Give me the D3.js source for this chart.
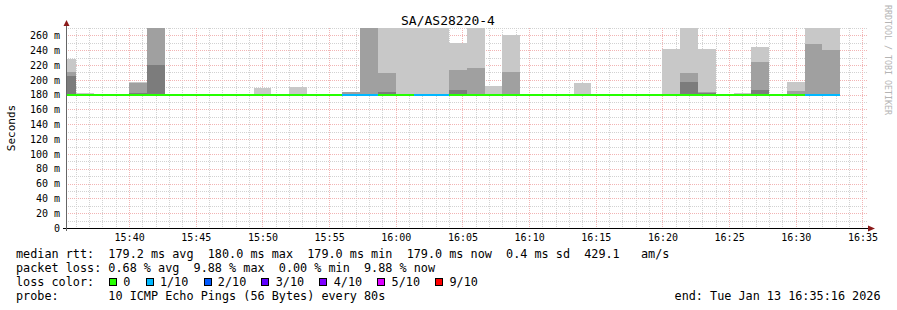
<!DOCTYPE html>
<html>
<head>
<meta charset="utf-8">
<script src="https://cdn.jsdelivr.net/npm/d3@7"></script>
<style>
body { margin: 0; background: #fff; }
svg { display: block; font-family: "DejaVu Sans Mono", monospace; }
</style>
</head>
<body>
<svg id="chart"></svg>
<script>
// graph window and probe step
var graphStart = "2026-01-13 15:35:16";
var graphEnd = "2026-01-13 16:35:16";
var firstSlot = "2026-01-13 15:34:40";
var stepSeconds = 80;

// per-step values (ms), one entry per 80s step
var medianMs = [180, 180, 180, 180, 180, 180, 179, 179, 179, 179,
                179, 179, 179, 179, 179, 179, 179, 179, 179, 179,
                179, 180, 180, 180, 180, 179, 179, 179, 179, 179,
                179, 179, 179, 179, 179, 179, 179, 179, 179, 179,
                179, 179, 179, 179];
var lossCount = [0, 0, 0, 0, 0, 0, 0, 0, 0, 0,
                 0, 0, 0, 0, 0, 0, 1, 1, 0, 0,
                 1, 1, 0, 0, 0, 0, 0, 0, 0, 0,
                 0, 0, 0, 0, 0, 0, 0, 0, 0, 0,
                 0, 0, 1, 1];
// smoke: top of outer / middle / inner ping bands (null = no band)
var smokeOuter = [228.5, 182.3, null, null, 197.5, 300, null, null, null, null,
                  null, 189.4, null, 190.3, null, null, 183.6, 300, 300, 300,
                  300, 300, 249.2, 300, 191.7, 260.4, null, null, null, 196,
                  null, null, null, null, 241.5, 300, 241.5, null, 181.6, 244.5,
                  null, 197.5, 300, 300];
var smokeMiddle = [210.6, null, null, null, 195.3, 300, null, null, null, null,
                   null, null, null, null, null, null, 183.6, 300, 209.4, null,
                   null, null, 213.2, 216, null, 210.6, null, null, null, null,
                   null, null, null, null, null, 209.4, 183.8, null, null, 224.2,
                   null, 185.2, 248.7, 240.6];
var smokeInner = [205.6, null, null, null, 182.6, 220, null, null, null, null,
                  null, null, null, null, null, null, null, null, 183.6, null,
                  null, null, 186.3, null, null, null, null, null, null, null,
                  null, null, null, null, null, 197.5, 182.1, null, null, 186.5,
                  null, null, null, null];

var yTicks = [0, 20, 40, 60, 80, 100, 120, 140, 160, 180, 200, 220, 240, 260];
var xTicks = ["15:40", "15:45", "15:50", "15:55", "16:00", "16:05", "16:10",
              "16:15", "16:20", "16:25", "16:30", "16:35"];

var lossLabels = ["0", "1/10", "2/10", "3/10", "4/10", "5/10", "9/10"];
var lossColors = ["#26ff00", "#00b8ff", "#0059ff", "#5e00ff", "#7e00ff", "#dd00ff", "#ff0000"];

var legendRows = [
    "median rtt:  179.2 ms avg  180.0 ms max  179.0 ms min  179.0 ms now  0.4 ms sd  429.1   am/s",
    "packet loss: 0.68 % avg  9.88 % max  0.00 % min  9.88 % now",
    "loss color:",
    "probe:       10 ICMP Echo Pings (56 Bytes) every 80s"
];
var endLabel = "end: Tue Jan 13 16:35:16 2026";
var title = "SA/AS28220-4";

var W = 897, H = 310;
var plot = {left: 66, right: 866, top: 28, bottom: 228};

var parse = d3.utcParse("%Y-%m-%d %H:%M:%S");
var t0 = parse(graphStart), t1 = parse(graphEnd), s0 = parse(firstSlot);

var x = d3.scaleUtc().domain([t0, t1]).range([plot.left, plot.right]);
var y = d3.scaleLinear().domain([0, 270]).range([plot.bottom, plot.top]);

var svg = d3.select("#chart").attr("width", W).attr("height", H);
svg.append("rect").attr("width", W).attr("height", H).attr("fill", "#fff");

svg.append("defs").append("clipPath").attr("id", "clip")
    .append("rect")
    .attr("x", plot.left).attr("y", plot.top)
    .attr("width", plot.right - plot.left).attr("height", plot.bottom - plot.top);

// grid
var grid = svg.append("g").attr("shape-rendering", "crispEdges");
var minorY = d3.range(10, 271, 10).filter(function(v){ return v % 20 !== 0; });
grid.selectAll(".hmin").data(minorY).enter().append("line")
    .attr("x1", plot.left).attr("x2", plot.right + 2)
    .attr("y1", function(d){ return Math.round(y(d)) + 0.5; })
    .attr("y2", function(d){ return Math.round(y(d)) + 0.5; })
    .attr("stroke", "#d2d2d2").attr("stroke-dasharray", "1,1");
var minorX = d3.utcMinute.range(t0, t1).filter(function(d){ return d.getUTCMinutes() % 5 !== 0; });
grid.selectAll(".vmin").data(minorX).enter().append("line")
    .attr("x1", function(d){ return Math.round(x(d)) + 0.5; })
    .attr("x2", function(d){ return Math.round(x(d)) + 0.5; })
    .attr("y1", plot.top).attr("y2", plot.bottom)
    .attr("stroke", "#d2d2d2").attr("stroke-dasharray", "1,1");
grid.selectAll(".hmaj").data(yTicks.slice(1)).enter().append("line")
    .attr("x1", plot.left).attr("x2", plot.right + 2)
    .attr("y1", function(d){ return Math.round(y(d)) + 0.5; })
    .attr("y2", function(d){ return Math.round(y(d)) + 0.5; })
    .attr("stroke", "#f2b4b4").attr("stroke-dasharray", "1,1");

var tickFmt = d3.utcFormat("%H:%M");
var xTickDates = xTicks.map(function(s){ return parse("2026-01-13 " + s + ":00"); });
grid.selectAll(".vmaj").data(xTickDates).enter().append("line")
    .attr("x1", function(d){ return Math.round(x(d)) + 0.5; })
    .attr("x2", function(d){ return Math.round(x(d)) + 0.5; })
    .attr("y1", plot.top).attr("y2", plot.bottom)
    .attr("stroke", "#f2b4b4").attr("stroke-dasharray", "1,1");

// smoke + median
var slots = medianMs.map(function(m, i){
    var a = d3.utcSecond.offset(s0, i * stepSeconds);
    return {start: a, end: d3.utcSecond.offset(a, stepSeconds), median: m, loss: lossCount[i],
            outer: smokeOuter[i], middle: smokeMiddle[i], inner: smokeInner[i]};
});

var g = svg.append("g").attr("clip-path", "url(#clip)").attr("shape-rendering", "crispEdges");
[["outer", "#c8c8c8"], ["middle", "#a0a0a0"], ["inner", "#7c7c7c"]].forEach(function(layer){
    g.selectAll(".smoke-" + layer[0])
      .data(slots.filter(function(d){ return d[layer[0]] != null; }))
      .enter().append("rect")
        .attr("x", function(d){ return x(d.start); })
        .attr("width", function(d){ return x(d.end) - x(d.start); })
        .attr("y", function(d){ return y(d[layer[0]]); })
        .attr("height", function(d){ return y(d.median) - y(d[layer[0]]); })
        .attr("fill", layer[1]);
});

g.selectAll(".median").data(slots).enter().append("line")
    .attr("x1", function(d){ return x(d.start); })
    .attr("x2", function(d){ return x(d.end); })
    .attr("y1", function(d){ return y(d.median); })
    .attr("y2", function(d){ return y(d.median); })
    .attr("stroke", function(d){ return lossColors[d.loss]; })
    .attr("stroke-width", 2);

// axes
var xAxis = svg.append("g")
    .attr("transform", "translate(0," + plot.bottom + ")")
    .call(d3.axisBottom(x).tickValues(xTickDates).tickFormat(tickFmt).tickSize(0).tickPadding(6));
xAxis.select(".domain").remove();
xAxis.selectAll("text").attr("font-size", 10).attr("font-family", "DejaVu Sans Mono").attr("fill", "#000");

var yAxis = svg.append("g")
    .attr("transform", "translate(" + plot.left + ",0)")
    .call(d3.axisLeft(y).tickValues(yTicks)
        .tickFormat(function(d){ return d === 0 ? "0" : d + " m"; })
        .tickSize(0).tickPadding(6));
yAxis.select(".domain").remove();
yAxis.selectAll("text").attr("font-size", 10).attr("font-family", "DejaVu Sans Mono").attr("fill", "#000");

svg.append("line").attr("x1", 63).attr("x2", 869).attr("y1", plot.bottom + 0.5).attr("y2", plot.bottom + 0.5)
    .attr("stroke", "#000").attr("shape-rendering", "crispEdges");
svg.append("line").attr("x1", plot.left + 0.5).attr("x2", plot.left + 0.5).attr("y1", 231).attr("y2", 24)
    .attr("stroke", "#666").attr("shape-rendering", "crispEdges");
svg.append("path").attr("d", "M868,225.5L875,228.5L868,231.5Z").attr("fill", "#8b1a1a");
svg.append("path").attr("d", "M63.5,26L69.5,26L66.5,20Z").attr("fill", "#8b1a1a");

// title and labels
svg.append("text").attr("x", 448).attr("y", 24.5).attr("text-anchor", "middle")
    .attr("font-size", 13).text(title);
svg.append("text").attr("transform", "translate(15," + ((plot.top + plot.bottom) / 2) + ") rotate(-90)")
    .attr("text-anchor", "middle").attr("font-size", 11).text("Seconds");
svg.append("text").attr("transform", "translate(885,5) rotate(90)")
    .attr("font-size", 8.3).attr("fill", "#b4b4b4").text("RRDTOOL / TOBI OETIKER");

// legend
var rowY = [257.5, 271.7, 285.8, 300];
var legend = svg.append("g").attr("font-size", 11.8).attr("fill", "#000");
legend.selectAll(".row").data(legendRows).enter().append("text")
    .attr("x", 16).attr("y", function(d, i){ return rowY[i]; })
    .attr("xml:space", "preserve").style("white-space", "pre")
    .text(function(d){ return d; });

var lx = 109;
lossLabels.forEach(function(lbl, i){
    legend.append("rect").attr("x", lx + 0.5).attr("y", 278.5).attr("width", 7).attr("height", 7)
        .attr("fill", lossColors[i]).attr("stroke", "#000").attr("shape-rendering", "crispEdges");
    var t = legend.append("text").attr("x", lx + 14.3).attr("y", rowY[2]).text(lbl);
    lx = lx + 14.3 + t.node().getComputedTextLength() + 15.2;
});

legend.append("text").attr("x", 880.5).attr("y", rowY[3]).attr("text-anchor", "end").text(endLabel);
</script>
</body>
</html>
